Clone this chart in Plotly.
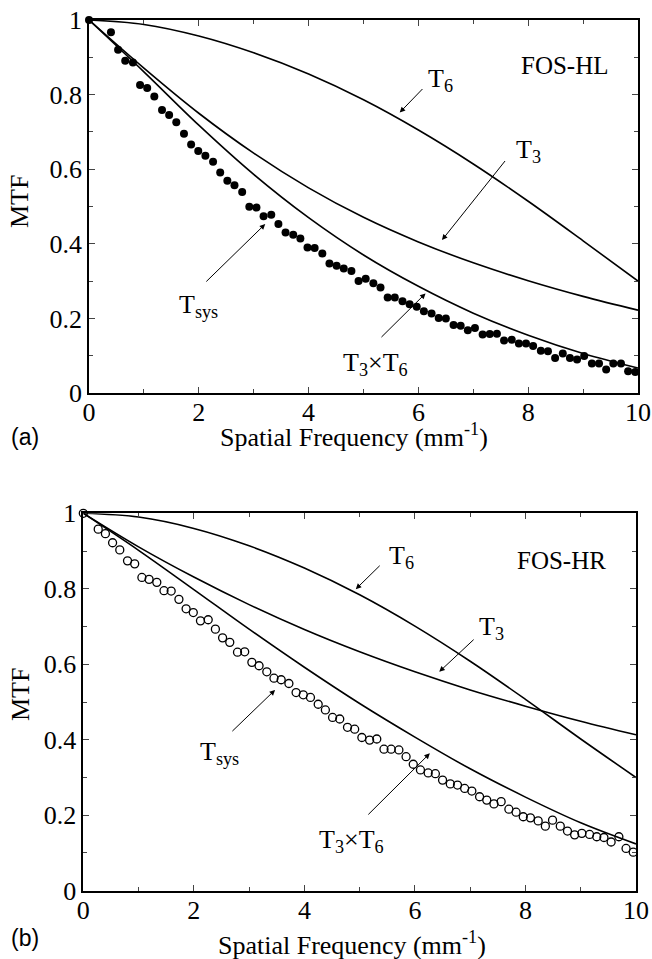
import plotly.graph_objects as go

# measured points (spatial frequency in mm^-1, MTF)
hl_freq = [0.00, 0.40, 0.53, 0.66, 0.80, 0.93, 1.06, 1.19, 1.33, 1.46, 1.59, 1.73, 1.86, 1.99,
           2.12, 2.26, 2.39, 2.52, 2.65, 2.79, 2.92, 3.05, 3.18, 3.32, 3.45, 3.58, 3.72, 3.85,
           3.98, 4.11, 4.25, 4.38, 4.51, 4.64, 4.78, 4.91, 5.04, 5.18, 5.31, 5.44, 5.57, 5.71,
           5.84, 5.97, 6.10, 6.24, 6.37, 6.50, 6.64, 6.77, 6.90, 7.03, 7.17, 7.30, 7.43, 7.56,
           7.70, 7.83, 7.96, 8.09, 8.23, 8.36, 8.49, 8.63, 8.76, 8.89, 9.02, 9.16, 9.29, 9.42,
           9.55, 9.69, 9.82, 9.95]
hl_tsys = [1.000, 0.967, 0.920, 0.891, 0.886, 0.826, 0.818, 0.795, 0.759, 0.745, 0.726, 0.695,
           0.666, 0.649, 0.636, 0.620, 0.591, 0.569, 0.557, 0.539, 0.499, 0.497, 0.474, 0.478,
           0.453, 0.430, 0.424, 0.414, 0.390, 0.389, 0.374, 0.347, 0.341, 0.334, 0.327, 0.300,
           0.306, 0.294, 0.283, 0.256, 0.256, 0.246, 0.238, 0.231, 0.219, 0.213, 0.201, 0.200,
           0.182, 0.180, 0.168, 0.174, 0.157, 0.158, 0.159, 0.141, 0.143, 0.133, 0.133, 0.126,
           0.113, 0.112, 0.094, 0.106, 0.094, 0.090, 0.099, 0.079, 0.079, 0.063, 0.079, 0.079,
           0.058, 0.056]

hr_freq = [0.00, 0.27, 0.40, 0.53, 0.66, 0.80, 0.93, 1.06, 1.19, 1.33, 1.46, 1.59, 1.73, 1.86,
           1.99, 2.12, 2.26, 2.39, 2.52, 2.65, 2.79, 2.92, 3.05, 3.18, 3.32, 3.45, 3.58, 3.72,
           3.85, 3.98, 4.11, 4.25, 4.38, 4.51, 4.64, 4.78, 4.91, 5.04, 5.18, 5.31, 5.44, 5.57,
           5.71, 5.84, 5.97, 6.10, 6.24, 6.37, 6.50, 6.64, 6.77, 6.90, 7.03, 7.17, 7.30, 7.43,
           7.56, 7.70, 7.83, 7.96, 8.09, 8.23, 8.36, 8.49, 8.63, 8.76, 8.89, 9.02, 9.16, 9.29,
           9.42, 9.55, 9.69, 9.82, 9.95]
hr_tsys = [1.000, 0.958, 0.946, 0.922, 0.903, 0.874, 0.866, 0.830, 0.825, 0.817, 0.795, 0.794,
           0.772, 0.747, 0.737, 0.715, 0.718, 0.693, 0.670, 0.658, 0.632, 0.633, 0.605, 0.596,
           0.580, 0.563, 0.559, 0.549, 0.525, 0.519, 0.512, 0.494, 0.479, 0.459, 0.455, 0.433,
           0.428, 0.406, 0.399, 0.402, 0.375, 0.375, 0.373, 0.355, 0.335, 0.320, 0.312, 0.310,
           0.293, 0.283, 0.280, 0.271, 0.264, 0.249, 0.240, 0.230, 0.236, 0.216, 0.208, 0.196,
           0.193, 0.185, 0.171, 0.187, 0.171, 0.158, 0.148, 0.152, 0.149, 0.143, 0.141, 0.129,
           0.143, 0.112, 0.102]

# component curves read at whole mm^-1
curve_freq = [0, 1, 2, 3, 4, 5, 6, 7, 8, 9, 10]
hl_t6 = [1.0, 0.988, 0.957, 0.912, 0.855, 0.786, 0.705, 0.614, 0.514, 0.408, 0.300]
hl_t3 = [1.0, 0.871, 0.750, 0.643, 0.550, 0.471, 0.405, 0.349, 0.301, 0.259, 0.222]
hl_t3t6 = [1.0, 0.861, 0.718, 0.586, 0.470, 0.370, 0.286, 0.214, 0.155, 0.106, 0.067]

hr_t6 = [1.0, 0.990, 0.960, 0.914, 0.855, 0.784, 0.701, 0.608, 0.507, 0.402, 0.300]
hr_t3 = [1.0, 0.911, 0.831, 0.758, 0.692, 0.633, 0.580, 0.532, 0.489, 0.449, 0.413]
hr_t3t6 = [1.0, 0.902, 0.798, 0.693, 0.592, 0.496, 0.407, 0.323, 0.248, 0.180, 0.124]

SERIF = "Liberation Serif, Times New Roman, serif"
SANS = "Liberation Sans, Arial, sans-serif"
W, H = 652, 959

fig = go.Figure()

for xa, ya, t6, t3, t3t6 in [("x", "y", hl_t6, hl_t3, hl_t3t6),
                             ("x2", "y2", hr_t6, hr_t3, hr_t3t6)]:
    for ys in (t6, t3, t3t6):
        fig.add_trace(go.Scatter(x=curve_freq, y=ys, mode="lines", xaxis=xa, yaxis=ya,
                                 line=dict(color="black", width=1.6, shape="spline", smoothing=1.0),
                                 showlegend=False, hoverinfo="skip"))

fig.add_trace(go.Scatter(x=hl_freq, y=hl_tsys, mode="markers", xaxis="x", yaxis="y",
                         marker=dict(symbol="circle", size=8, color="black"),
                         showlegend=False, cliponaxis=False))
fig.add_trace(go.Scatter(x=hr_freq, y=hr_tsys, mode="markers", xaxis="x2", yaxis="y2",
                         marker=dict(symbol="circle-open", size=8, color="black",
                                     line=dict(width=1.3, color="black")),
                         showlegend=False, cliponaxis=False))


def xaxis_style(domain, anchor):
    return dict(domain=domain, anchor=anchor, range=[0, 10], dtick=2, tick0=0,
                ticks="inside", ticklen=6, tickwidth=1.3, showline=True, linewidth=1.6,
                linecolor="black", mirror="ticks", showgrid=False, zeroline=False,
                automargin=False, ticklabelstandoff=-5,
                tickfont=dict(family=SERIF, size=26, color="black"),
                minor=dict(ticks="inside", ticklen=4, tickwidth=1.2, dtick=1, showgrid=False))


def yaxis_style(domain, anchor):
    return dict(domain=domain, anchor=anchor, range=[0, 1], dtick=0.2, tick0=0,
                ticks="inside", ticklen=6, tickwidth=1.3, showline=True, linewidth=1.6,
                linecolor="black", mirror="ticks", showgrid=False, zeroline=False,
                automargin=False,
                tickfont=dict(family=SERIF, size=26, color="black"),
                minor=dict(ticks="inside", ticklen=4, tickwidth=1.2, dtick=0.1, showgrid=False))


fig.update_layout(
    width=W, height=H, margin=dict(l=0, r=0, t=0, b=0, autoexpand=False),
    paper_bgcolor="white", plot_bgcolor="white",
    xaxis=xaxis_style([89 / W, 638 / W], "y"),
    yaxis=yaxis_style([1 - 393 / H, 1 - 20 / H], "x"),
    xaxis2=xaxis_style([83.3 / W, 636 / W], "y2"),
    yaxis2=yaxis_style([1 - 890.7 / H, 1 - 513.3 / H], "x2"),
)

ann = []


def label(text, x, y, xr, yr, size=26):
    ann.append(dict(text=text, x=x, y=y, xref=xr, yref=yr, showarrow=False,
                    xanchor="center", yanchor="middle",
                    font=dict(family=SERIF, size=size, color="black")))


def arrow(x0, y0, x1, y1, xr, yr):
    ann.append(dict(text="", x=x1, y=y1, ax=x0, ay=y0, xref=xr, yref=yr, axref=xr, ayref=yr,
                    showarrow=True, arrowhead=2, arrowsize=1.1, arrowwidth=1,
                    arrowcolor="black", standoff=0, startstandoff=0))


# panel (a)
label("FOS-HL", 8.67, 0.879, "x", "y", 25)
label("T<sub>6</sub>", 6.41, 0.839, "x", "y")
label("T<sub>3</sub>", 8.00, 0.649, "x", "y")
label("T<sub>sys</sub>", 2.00, 0.232, "x", "y")
label("T<sub>3</sub>×T<sub>6</sub>", 5.21, 0.077, "x", "y")
arrow(6.10, 0.819, 5.66, 0.752, "x", "y")
arrow(7.60, 0.626, 6.43, 0.410, "x", "y")
arrow(2.11, 0.295, 3.21, 0.453, "x", "y")
arrow(5.30, 0.146, 6.13, 0.267, "x", "y")

# panel (b)
label("FOS-HR", 8.66, 0.876, "x2", "y2", 25)
label("T<sub>6</sub>", 5.75, 0.884, "x2", "y2")
label("T<sub>3</sub>", 7.38, 0.696, "x2", "y2")
label("T<sub>sys</sub>", 2.46, 0.364, "x2", "y2")
label("T<sub>3</sub>×T<sub>6</sub>", 4.85, 0.132, "x2", "y2")
arrow(5.39, 0.865, 4.93, 0.799, "x2", "y2")
arrow(7.09, 0.669, 6.44, 0.580, "x2", "y2")
arrow(2.67, 0.419, 3.47, 0.532, "x2", "y2")
arrow(5.13, 0.198, 6.27, 0.364, "x2", "y2")

# axis titles and panel tags
label("Spatial Frequency (mm<sup>-1</sup>)", 354 / W, 1 - 435 / H, "paper", "paper")
label("Spatial Frequency (mm<sup>-1</sup>)", 352 / W, 1 - 943 / H, "paper", "paper")
for yc in (202, 695):
    ann.append(dict(text="MTF", x=20 / W, y=1 - yc / H, xref="paper", yref="paper",
                    showarrow=False, textangle=-90, xanchor="center", yanchor="middle",
                    font=dict(family=SERIF, size=26, color="black")))
for txt, yc in (("(a)", 437), ("(b)", 938)):
    ann.append(dict(text=txt, x=25 / W, y=1 - yc / H, xref="paper", yref="paper",
                    showarrow=False, xanchor="center", yanchor="middle",
                    font=dict(family=SANS, size=23, color="black")))

fig.update_layout(annotations=ann)
# page body margin would otherwise shift the figure by 8 px
fig.write_html("out.html", config={"displayModeBar": False},
               post_script="document.body.style.margin='0px';")
